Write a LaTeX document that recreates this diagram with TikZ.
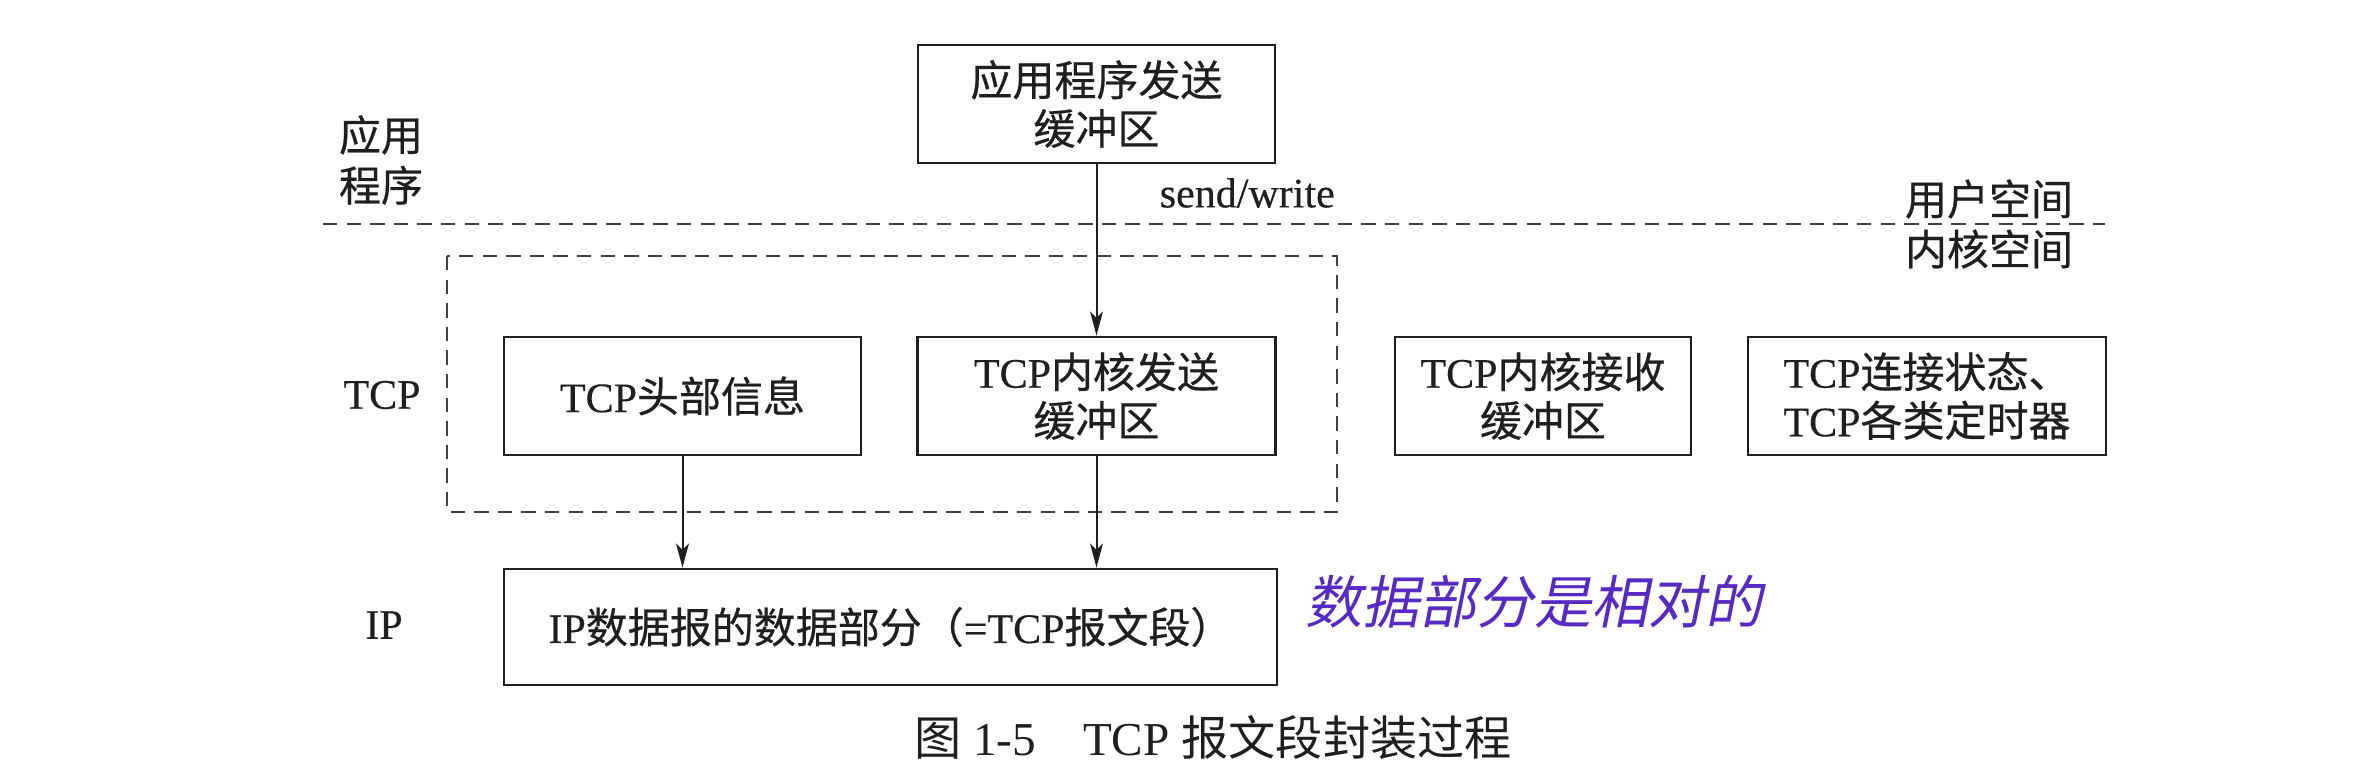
\documentclass[tikz,border=0pt]{standalone}
\usepackage{fontspec}
\setmainfont[FakeBold=0.35]{Liberation Serif}
\newfontfamily\cjk[FakeBold=0.5]{Noto Sans CJK SC}
\newfontfamily\capcjk{Noto Sans CJK SC}
\newfontfamily\caplat{Liberation Serif}
\newfontfamily\hand[FakeSlant=0.2]{Noto Sans CJK SC}
\usetikzlibrary{arrows.meta}
\definecolor{ink}{gray}{0.12}
\definecolor{pen}{RGB}{88,42,196}
\begin{document}
\begin{tikzpicture}[x=0.25pt,y=-0.25pt,
  txt/.style={inner sep=0pt, text=ink, align=center, font=\fontsize{10.5pt}{12.15pt}\selectfont},
  box/.style={txt, draw=ink, line width=0.7pt, minimum height=29.5pt},
  dashline/.style={draw=ink!85, line width=0.6pt, dash pattern=on 3.6pt off 2.3pt},
  arr/.style={draw=ink, line width=0.5pt, -{Stealth[length=6pt,width=3.2pt,inset=1.6pt]}}]
\useasboundingbox (0,0) rectangle (2360,762);

% layer labels
\node[txt, font=\fontsize{10.5pt}{12.6pt}\selectfont] (lapp) at (381,160) {\cjk 应用\\\cjk 程序};
\node[txt] (ltcp) at (382,395) {TCP};
\node[txt] (lip) at (384,625) {IP};

% user/kernel separator
\coordinate (sepL) at (323,224);
\coordinate (sepR) at (2105,224);
\draw[dashline] (sepL) -- (sepR);
\node[txt] (user) at (1989,199) {\cjk 用户空间};
\node[txt] (kern) at (1989,249) {\cjk 内核空间};

% dashed TCP group
\coordinate (gA) at (447,256);
\coordinate (gB) at (1337,512);
\draw[dashline] (gA) rectangle (gB);

% boxes
\node[box, minimum width=89.25pt] (app) at (1096.5,104) {\cjk 应用程序发送\\\cjk 缓冲区};
\node[box, minimum width=89.25pt] (hdr) at (682.5,396) {TCP{\cjk 头部信息}};
\node[box, minimum width=89.5pt] (snd) at (1096.5,396) {TCP{\cjk 内核发送}\\\cjk 缓冲区};
\node[box, minimum width=74pt] (rcv) at (1543,396) {TCP{\cjk 内核接收}\\\cjk 缓冲区};
\node[box, minimum width=89.5pt] (st) at (1927,396) {TCP{\cjk 连接状态、}\\TCP{\cjk 各类定时器}};
\node[box, minimum width=193.25pt, minimum height=29pt] (ip) at (890.5,627) {IP{\cjk 数据报的数据部分（}=TCP{\cjk 报文段）}};

% connectors
\draw[arr] (app.south) -- (snd.north);
\node[txt, anchor=west] (sw) at (1159,193) {send/write};
\draw[arr] (hdr.south) -- (hdr.south |- ip.north);
\draw[arr] (snd.south) -- (snd.south |- ip.north);

% handwritten note
\node[inner sep=0pt, text=pen, font=\fontsize{14.3pt}{16pt}\hand] (note) at (1534,602) {数据部分是相对的};

% caption
\node[txt, font=\fontsize{11.8pt}{14pt}\selectfont] (cap) at (1213,738) {{\capcjk 图} {\caplat 1-5}\quad{\caplat TCP} {\capcjk 报文段封装过程}};
\end{tikzpicture}
\end{document}
